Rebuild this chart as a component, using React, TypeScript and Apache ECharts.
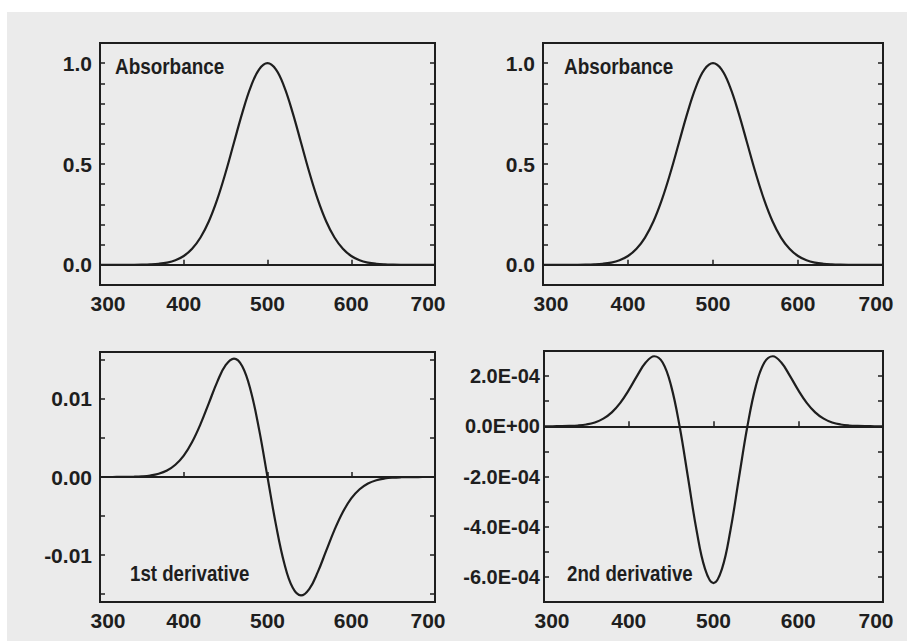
import React, { useEffect, useRef } from "react";
import * as echarts from "echarts";

const wavelengths = [300, 310, 320, 330, 340, 350, 360, 370, 380, 390, 400, 410, 420, 430, 440, 450, 460, 470, 480, 490, 500, 510, 520, 530, 540, 550, 560, 570, 580, 590, 600, 610, 620, 630, 640, 650, 660, 670, 680, 690, 700];

const absorbance = [0, 0, 0, 0.0001, 0.0003, 0.0009, 0.0022, 0.0051, 0.0111, 0.0228, 0.0439, 0.0796, 0.1353, 0.2163, 0.3247, 0.4578, 0.6065, 0.7548, 0.8825, 0.9692, 1.0, 0.9692, 0.8825, 0.7548, 0.6065, 0.4578, 0.3247, 0.2163, 0.1353, 0.0796, 0.0439, 0.0228, 0.0111, 0.0051, 0.0022, 0.0009, 0.0003, 0.0001, 0, 0, 0];

const firstDerivative = [0, 0.0000015, 0.0000045, 0.0000126, 0.0000335, 0.000083, 0.000192, 0.000413, 0.00083, 0.00157, 0.00274, 0.00448, 0.00677, 0.00946, 0.01218, 0.01431, 0.01516, 0.01415, 0.01103, 0.00606, 0, -0.00606, -0.01103, -0.01415, -0.01516, -0.01431, -0.01218, -0.00946, -0.00677, -0.00448, -0.00274, -0.00157, -0.00083, -0.000413, -0.000192, -0.000083, -0.0000335, -0.0000126, -0.0000045, -0.0000015, 0];

const secondDerivative = [0, 0.0000002, 0.0000005, 0.0000013, 0.0000031, 0.0000072, 0.0000154, 0.0000304, 0.0000555, 0.0000935, 0.000144, 0.000202, 0.000254, 0.000279, 0.000254, 0.000161, 0, -0.000206, -0.000414, -0.000568, -0.000625, -0.000568, -0.000414, -0.000206, 0, 0.000161, 0.000254, 0.000279, 0.000254, 0.000202, 0.000144, 0.0000935, 0.0000555, 0.0000304, 0.0000154, 0.0000072, 0.0000031, 0.0000013, 0.0000005, 0.0000002, 0];

const absTicks = [-0.1, 0, 0.1, 0.2, 0.3, 0.4, 0.5, 0.6, 0.7, 0.8, 0.9, 1.0, 1.1];
const absLabels = [0, 0.5, 1.0];
const d1Ticks = [-0.015, -0.01, -0.005, 0, 0.005, 0.01, 0.015];
const d1Labels = [-0.01, 0, 0.01];
const d2Ticks = [-0.0007, -0.0006, -0.0005, -0.0004, -0.0003, -0.0002, -0.0001, 0, 0.0001, 0.0002, 0.0003];
const d2Labels = [-0.0006, -0.0004, -0.0002, 0, 0.0002];

const FONT = '"Liberation Sans", Arial, sans-serif';
const INK = "#1e1e1e";

function sci(v: number): string {
  const [m, e] = v.toExponential(1).split("e");
  const sign = e[0] === "-" ? "-" : "+";
  const digits = e.replace(/[+-]/, "").padStart(2, "0");
  return `${m}E${sign}${digits}`;
}

export default function App() {
  const ref = useRef<HTMLDivElement>(null);

  useEffect(() => {
    document.body.style.margin = "0";
    if (!ref.current) return;
    const chart = echarts.init(ref.current, undefined, { renderer: "svg" });

    const grids = [
      { left: 100, top: 43, width: 335, height: 242, show: true, borderColor: INK, borderWidth: 2 },
      { left: 543, top: 43, width: 340, height: 242, show: true, borderColor: INK, borderWidth: 2 },
      { left: 100, top: 352, width: 335, height: 250, show: true, borderColor: INK, borderWidth: 2 },
      { left: 544, top: 351, width: 339, height: 251, show: true, borderColor: INK, borderWidth: 2 },
    ];

    const labelFont = { fontFamily: FONT, fontSize: 21, fontWeight: "bold" as const, color: INK };

    const xAxes = grids.map((_, i) => ({
      type: "value" as const,
      gridIndex: i,
      min: 300,
      max: 700,
      interval: 100,
      axisLine: { show: false },
      splitLine: { show: false },
      axisTick: { show: true, inside: true, length: 5, lineStyle: { color: INK, width: 1.5 } },
      axisLabel: {
        ...labelFont,
        margin: 8,
        formatter: (v: number) => (v === 300 ? `{l|${v}}` : v === 700 ? `{r|${v}}` : `${v}`),
        rich: {
          l: { ...labelFont, padding: [0, 0, 0, 16] },
          r: { ...labelFont, padding: [0, 14, 0, 0] },
        },
      },
    }));

    const yDefs = [
      { min: -0.1, max: 1.1, ticks: absTicks, labels: absLabels, fmt: (v: number) => v.toFixed(1), margin: 8, size: 21 },
      { min: -0.1, max: 1.1, ticks: absTicks, labels: absLabels, fmt: (v: number) => v.toFixed(1), margin: 8, size: 21 },
      { min: -0.016, max: 0.016, ticks: d1Ticks, labels: d1Labels, fmt: (v: number) => v.toFixed(2), margin: 8, size: 21 },
      { min: -0.0007, max: 0.0003, ticks: d2Ticks, labels: d2Labels, fmt: sci, margin: 4, size: 20 },
    ];

    const yAxes: any[] = [];
    yDefs.forEach((d, i) => {
      yAxes.push({
        type: "value",
        gridIndex: i,
        min: d.min,
        max: d.max,
        position: "left",
        axisLine: { show: false },
        splitLine: { show: false },
        axisTick: { show: true, inside: true, length: 5, customValues: d.ticks, lineStyle: { color: INK, width: 1.5 } },
        axisLabel: { ...labelFont, fontSize: d.size, margin: d.margin, customValues: d.labels, formatter: d.fmt },
      });
      yAxes.push({
        type: "value",
        gridIndex: i,
        min: d.min,
        max: d.max,
        position: "right",
        axisLine: { show: false },
        splitLine: { show: false },
        axisTick: { show: true, inside: true, length: 5, customValues: d.ticks, lineStyle: { color: INK, width: 1.5 } },
        axisLabel: { show: false },
      });
    });

    const seriesData = [absorbance, absorbance, firstDerivative, secondDerivative];
    const series = seriesData.map((vals, i) => ({
      type: "line" as const,
      xAxisIndex: i,
      yAxisIndex: i * 2,
      data: wavelengths.map((w, k) => [w, vals[k]]),
      showSymbol: false,
      smooth: 0.4,
      lineStyle: { color: INK, width: 2.2 },
      markLine: {
        silent: true,
        symbol: ["none", "none"],
        label: { show: false },
        lineStyle: { color: INK, width: 2, type: "solid" as const },
        data: [{ yAxis: 0 }],
      },
    }));

    const textStyle = (text: string) => ({
      text,
      fill: INK,
      fontFamily: FONT,
      fontSize: 22,
      fontWeight: "bold",
      align: "left",
      verticalAlign: "middle",
    });

    chart.setOption({
      animation: false,
      grid: grids,
      xAxis: xAxes,
      yAxis: yAxes,
      series,
      graphic: [
        { type: "text", x: 115, y: 66, scaleX: 0.86, style: textStyle("Absorbance") },
        { type: "text", x: 564, y: 66, scaleX: 0.86, style: textStyle("Absorbance") },
        { type: "text", x: 130, y: 573, scaleX: 0.85, style: textStyle("1st derivative") },
        { type: "text", x: 567, y: 573, scaleX: 0.85, style: textStyle("2nd derivative") },
      ],
    });

    return () => chart.dispose();
  }, []);

  return (
    <div style={{ position: "relative", width: 907, height: 641, background: "#ffffff" }}>
      <div style={{ position: "absolute", left: 7, top: 12, width: 900, height: 629, background: "#ebebeb" }} />
      <div ref={ref} style={{ position: "absolute", left: 0, top: 0, width: 907, height: 641 }} />
    </div>
  );
}
